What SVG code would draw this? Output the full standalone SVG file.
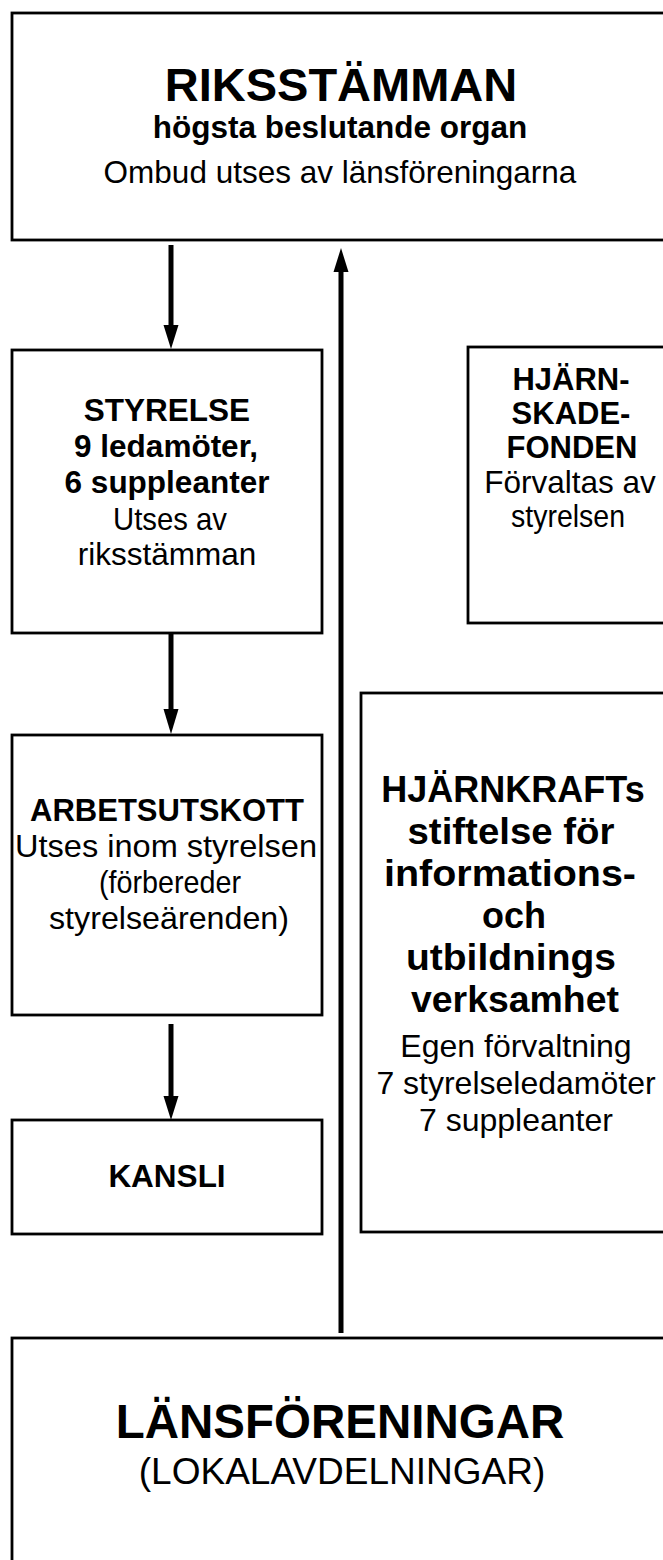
<svg xmlns="http://www.w3.org/2000/svg" width="663" height="1560" viewBox="0 0 663 1560">
<style>
.box{fill:#fff;stroke:#000;stroke-width:2.8}
.b{font-family:"Liberation Sans",Arial,Helvetica,sans-serif;font-weight:bold;fill:#000;text-anchor:middle}
.r{font-family:"Liberation Sans",Arial,Helvetica,sans-serif;fill:#000;text-anchor:middle}
.shaft{stroke:#000;stroke-width:5;fill:none}
.head{fill:#000}
</style>
<rect width="663" height="1560" fill="#fff"/>
<g id="riksstamman">
<rect class="box" x="12" y="13" width="670" height="227"/>
<text class="b" x="341" y="101" font-size="47">RIKSSTÄMMAN</text>
<text class="b" x="340" y="138" font-size="31.5">högsta beslutande organ</text>
<text class="r" x="340" y="183" font-size="31.5">Ombud utses av länsföreningarna</text>
</g>
<g id="styrelse">
<rect class="box" x="12" y="350" width="310" height="283"/>
<text class="b" x="167" y="421" font-size="31.5">STYRELSE</text>
<text class="b" x="166" y="457" font-size="31.5">9 ledamöter,</text>
<text class="b" x="167" y="493" font-size="31.5">6 suppleanter</text>
<text class="r" x="170" y="530" font-size="31.5" textLength="114" lengthAdjust="spacingAndGlyphs">Utses av</text>
<text class="r" x="167" y="565" font-size="31.5">riksstämman</text>
</g>
<g id="arbetsutskott">
<rect class="box" x="12" y="735" width="310" height="280"/>
<text class="b" x="167" y="821" font-size="31">ARBETSUTSKOTT</text>
<text class="r" x="166" y="857" font-size="31.5" textLength="302" lengthAdjust="spacingAndGlyphs">Utses inom styrelsen</text>
<text class="r" x="170" y="893" font-size="31.5" textLength="142" lengthAdjust="spacingAndGlyphs">(förbereder</text>
<text class="r" x="169" y="929" font-size="31.5" textLength="240" lengthAdjust="spacingAndGlyphs">styrelseärenden)</text>
</g>
<g id="kansli">
<rect class="box" x="12" y="1120" width="310" height="114"/>
<text class="b" x="167" y="1187" font-size="31.5">KANSLI</text>
</g>
<g id="hjarnskadefonden">
<rect class="box" x="468" y="347" width="210" height="276"/>
<text class="b" x="571" y="390" font-size="31">HJÄRN-</text>
<text class="b" x="571" y="424" font-size="31">SKADE-</text>
<text class="b" x="572" y="458" font-size="31">FONDEN</text>
<text class="r" x="570" y="493" font-size="31.5">Förvaltas av</text>
<text class="r" x="568" y="527" font-size="31.5" textLength="114" lengthAdjust="spacingAndGlyphs">styrelsen</text>
</g>
<g id="hjarnkraft">
<rect class="box" x="361" y="693" width="320" height="539"/>
<text class="b" x="513" y="802" font-size="36">HJÄRNKRAFTs</text>
<text class="b" x="511" y="844" font-size="36" textLength="207" lengthAdjust="spacingAndGlyphs">stiftelse för</text>
<text class="b" x="510" y="886" font-size="36" textLength="252" lengthAdjust="spacingAndGlyphs">informations-</text>
<text class="b" x="514" y="928" font-size="36">och</text>
<text class="b" x="511" y="970" font-size="36" textLength="210" lengthAdjust="spacingAndGlyphs">utbildnings</text>
<text class="b" x="515" y="1012" font-size="36" textLength="208" lengthAdjust="spacingAndGlyphs">verksamhet</text>
<text class="r" x="516" y="1057" font-size="32">Egen förvaltning</text>
<text class="r" x="516" y="1094" font-size="32">7 styrelseledamöter</text>
<text class="r" x="516" y="1131" font-size="32">7 suppleanter</text>
</g>
<g id="lansforeningar">
<rect class="box" x="12" y="1338" width="670" height="240"/>
<text class="b" x="340" y="1438" font-size="47.5">LÄNSFÖRENINGAR</text>
<text class="r" x="342" y="1484" font-size="37">(LOKALAVDELNINGAR)</text>
</g>
<g id="connectors">
<line class="shaft" x1="171" y1="245" x2="171" y2="328"/>
<polygon class="head" points="163.5,325 178.5,325 171,349"/>
<line class="shaft" x1="171" y1="632" x2="171" y2="712"/>
<polygon class="head" points="163.5,709 178.5,709 171,734"/>
<line class="shaft" x1="171" y1="1024" x2="171" y2="1099"/>
<polygon class="head" points="163.5,1096 178.5,1096 171,1120"/>
<line class="shaft" x1="341" y1="1333" x2="341" y2="268"/>
<polygon class="head" points="333.5,272 348.5,272 341,248"/>
</g>
</svg>
